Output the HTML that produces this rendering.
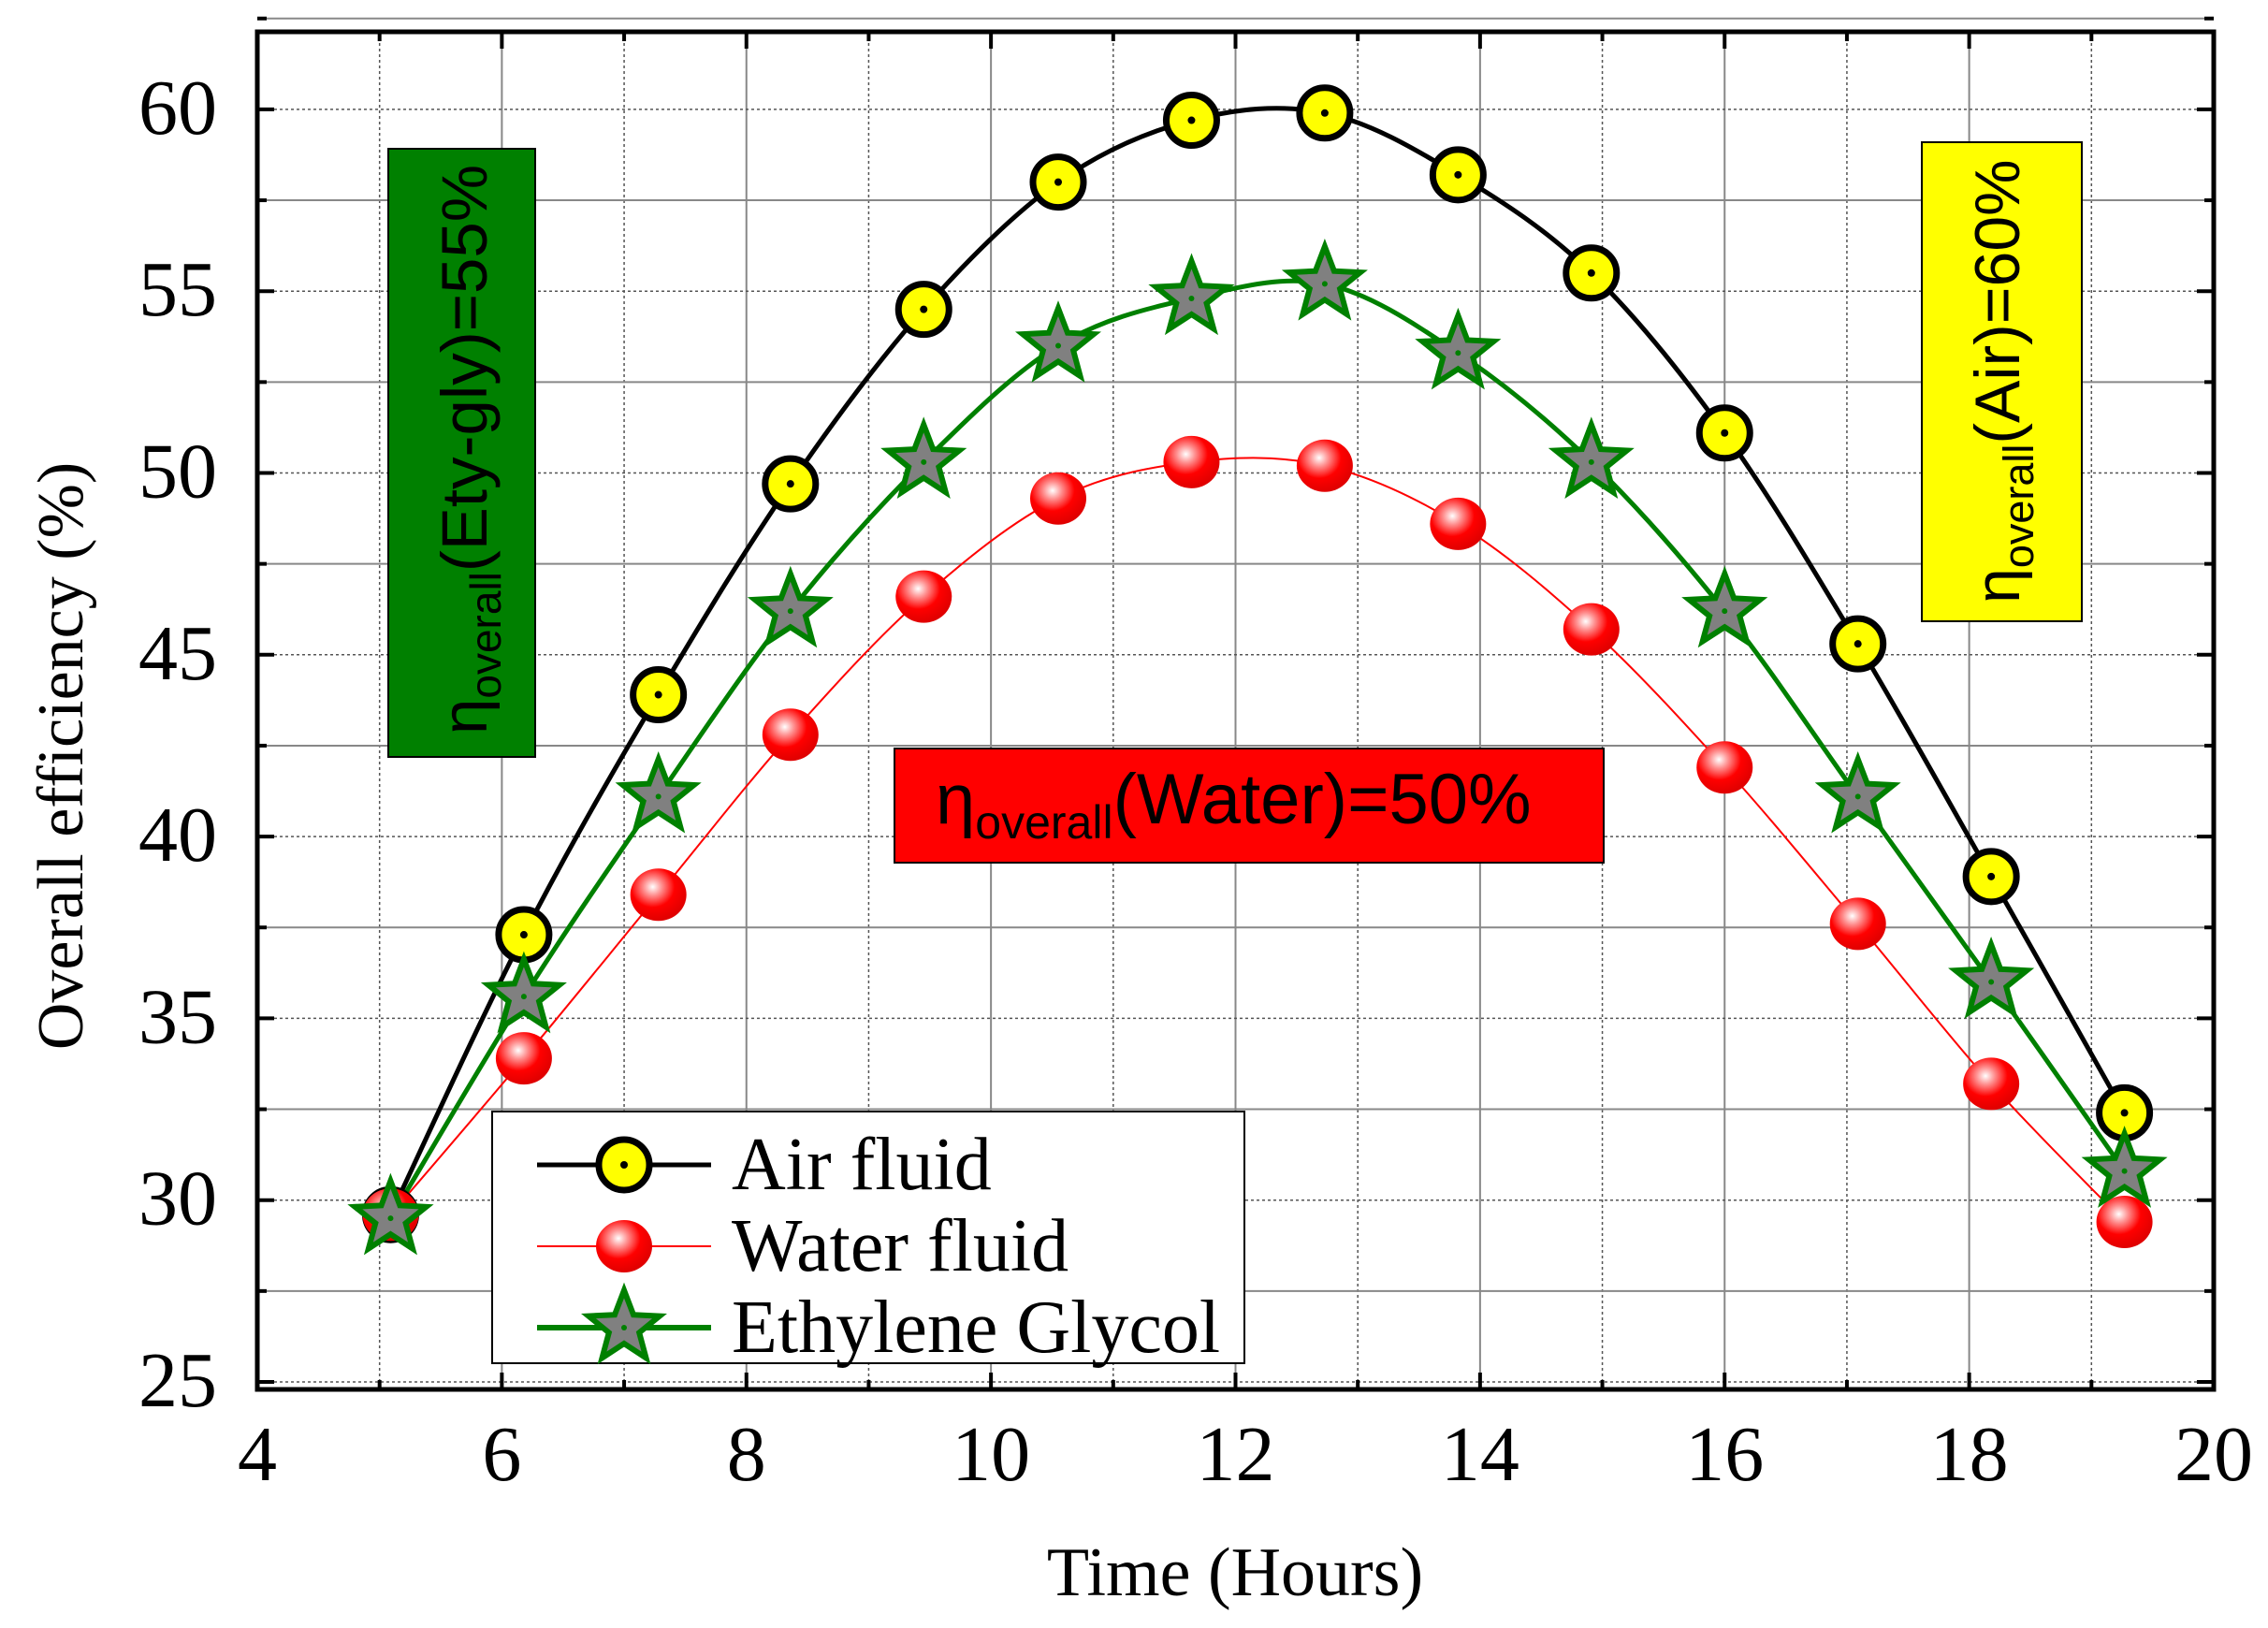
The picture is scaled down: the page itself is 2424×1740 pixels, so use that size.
<!DOCTYPE html>
<html><head><meta charset="utf-8"><style>
html,body{margin:0;padding:0;background:#fff;}
svg{display:block;}
</style></head><body>
<svg id="chart" width="2424" height="1740" viewBox="0 0 2424 1740" xmlns="http://www.w3.org/2000/svg">
<g id="grid"></g>
<g id="series"></g>
<g id="boxes">
 <rect x="415" y="159" width="157" height="650" fill="#008000" stroke="#000" stroke-width="2"/>
 <text transform="translate(520,785) rotate(-90)" font-family="Liberation Sans, sans-serif" font-size="69" fill="#000">η<tspan font-size="46" dy="15">overall</tspan><tspan dy="-15">(Ety-gly)=55%</tspan></text>
 <rect x="2054" y="152" width="171" height="512" fill="#ffff00" stroke="#000" stroke-width="2"/>
 <text transform="translate(2158,645) rotate(-90)" font-family="Liberation Sans, sans-serif" font-size="68" fill="#000">η<tspan font-size="45" dy="15">overall</tspan><tspan dy="-15">(Air)=60%</tspan></text>
 <rect x="956" y="800" width="758" height="122" fill="#ff0000" stroke="#000" stroke-width="2"/>
 <text x="1000" y="880" font-family="Liberation Sans, sans-serif" font-size="76" fill="#000">η<tspan font-size="50" dy="16">overall</tspan><tspan dy="-16">(Water)=50%</tspan></text>
</g>
<g id="legend">
 <rect x="526" y="1188" width="804" height="269" fill="#fff" stroke="#000" stroke-width="2"/>
</g>
<g id="axes"></g>
<text x="1320" y="1705" text-anchor="middle" font-family="Liberation Serif, serif" font-size="74" fill="#000">Time (Hours)</text>
<text transform="translate(88,808) rotate(-90)" text-anchor="middle" font-family="Liberation Serif, serif" font-size="70" fill="#000">Overall efficiency (%)</text>
</svg>
<script>
const hours = [5.09,6.18,7.28,8.36,9.45,10.55,11.64,12.73,13.82,14.91,16.0,17.09,18.18,19.27];
const airValues = [29.6,37.3,43.9,49.7,54.5,58.0,59.7,59.9,58.2,55.5,51.1,45.3,38.9,32.4];
const waterValues = [29.6,33.9,38.4,42.8,46.6,49.3,50.3,50.2,48.6,45.7,41.9,37.6,33.2,29.4];
const glycolValues = [29.5,35.6,41.1,46.2,50.3,53.5,54.8,55.2,53.3,50.3,46.2,41.1,36.0,30.8];
const xTicks = [4,6,8,10,12,14,16,18,20];
const yTicks = [25,30,35,40,45,50,55,60];

const NS="http://www.w3.org/2000/svg";
const L=275,R=2366,T=34,B=1485;
const X0=4,X1=20;
const Y25=1477,PXU=38.86;
function xs(v){return L+(v-X0)*(R-L)/(X1-X0);}
function ys(v){return Y25-(v-25)*PXU;}
function mk(tag,attrs,parent){const e=document.createElementNS(NS,tag);for(const k in attrs)e.setAttribute(k,attrs[k]);parent.appendChild(e);return e;}
const grid=document.getElementById('grid'),axes=document.getElementById('axes'),series=document.getElementById('series'),legend=document.getElementById('legend');
const defs=mk('defs',{},document.getElementById('chart'));
defs.innerHTML='<radialGradient id="ball" cx="0.4" cy="0.35" r="0.65"><stop offset="0" stop-color="#fff"/><stop offset="0.25" stop-color="#ff9090"/><stop offset="0.6" stop-color="#ff0000"/><stop offset="1" stop-color="#e00000"/></radialGradient>';

for(let v=4;v<=20;v+=1){
 const g=mk('line',{x1:xs(v),x2:xs(v),y1:T,y2:B,stroke:v%2?'#555':'#888','stroke-width':v%2?1.5:2,'stroke-dasharray':v%2?'3,3':''},grid);
 
 
}
for(let v=25;v<=62.5;v+=2.5){
 const g=mk('line',{x1:L,x2:R,y1:ys(v),y2:ys(v),stroke:v%5?'#888':'#555','stroke-width':v%5?2:1.5,'stroke-dasharray':v%5?'':'3,3'},grid);
 
 
}
const frame=mk('rect',{x:L,y:T,width:R-L,height:B-T,fill:'none',stroke:'#000','stroke-width':5},axes);


for(let v=4;v<=20;v+=1){
 const len=v%2?10:18;
 mk('line',{x1:xs(v),x2:xs(v),y1:B,y2:B-len,stroke:'#000','stroke-width':4},axes);
 mk('line',{x1:xs(v),x2:xs(v),y1:T,y2:T+len,stroke:'#000','stroke-width':4},axes);
}
for(let v=25;v<=62.5;v+=2.5){
 const len=v%5?10:18;
 mk('line',{x1:L,x2:L+len,y1:ys(v),y2:ys(v),stroke:'#000','stroke-width':4},axes);
 mk('line',{x1:R,x2:R-len,y1:ys(v),y2:ys(v),stroke:'#000','stroke-width':4},axes);
}
xTicks.forEach(v=>{
 const t=mk('text',{x:xs(v),y:1582,'text-anchor':'middle','font-family':'Liberation Serif, serif','font-size':84,fill:'#000'},axes);
 t.textContent=v;
 
 
});
yTicks.forEach(v=>{
 const t=mk('text',{x:232,y:ys(v)+26,'text-anchor':'end','font-family':'Liberation Serif, serif','font-size':84,fill:'#000'},axes);
 t.textContent=v;
 
 
});

function smooth(vals){
 const p=hours.map((h,i)=>[xs(h),ys(vals[i])]);
 let d='M'+p[0][0]+','+p[0][1];
 for(let i=0;i<p.length-1;i++){
  const p0=p[i-1]||p[i],p1=p[i],p2=p[i+1],p3=p[i+2]||p[i+1];
  const c1=[p1[0]+(p2[0]-p0[0])/6,p1[1]+(p2[1]-p0[1])/6];
  const c2=[p2[0]-(p3[0]-p1[0])/6,p2[1]-(p3[1]-p1[1])/6];
  d+=' C'+c1+' '+c2+' '+p2;
 }
 return d;
}
function starPts(cx,cy,ro,ri){
 let s=[];for(let k=0;k<10;k++){const r=k%2?ri:ro;const a=-Math.PI/2+k*Math.PI/5;s.push((cx+r*Math.cos(a)).toFixed(1)+','+(cy+r*Math.sin(a)).toFixed(1));}return s.join(' ');
}
function airMarker(cx,cy,parent){
 const c=mk('circle',{cx:cx,cy:cy,r:27,fill:'#ffff00',stroke:'#000','stroke-width':7},parent);
 
 
 mk('circle',{cx:cx,cy:cy,r:4,fill:'#000'},parent);
}
function waterMarker(cx,cy,parent){
 const c=mk('ellipse',{cx:cx,cy:cy,rx:30,ry:28,fill:'url(#ball)'},parent);
 
 
}
function glyMarker(cx,cy,parent){
 const s=mk('polygon',{points:starPts(cx,cy,40,17),fill:'#808080',stroke:'#008000','stroke-width':6,'stroke-linejoin':'miter'},parent);
 
 
 mk('circle',{cx:cx,cy:cy,r:3,fill:'#008000'},parent);
}
const wl=mk('path',{d:smooth(waterValues),fill:'none',stroke:'#ff0000','stroke-width':2},series);


const al=mk('path',{d:smooth(airValues),fill:'none',stroke:'#000','stroke-width':5},series);


const gl=mk('path',{d:smooth(glycolValues),fill:'none',stroke:'#008000','stroke-width':5},series);


hours.forEach((h,i)=>airMarker(xs(h),ys(airValues[i]),series));
hours.forEach((h,i)=>waterMarker(xs(h),ys(waterValues[i]),series));
hours.forEach((h,i)=>glyMarker(xs(h),ys(glycolValues[i]),series));

const entries=[['Air fluid','#000',5,airMarker],['Water fluid','#ff0000',2,waterMarker],['Ethylene Glycol','#008000',6,glyMarker]];
entries.forEach((e,i)=>{
 const y=1245+i*87;
 const ln=mk('line',{x1:574,x2:760,y1:y,y2:y,stroke:e[1],'stroke-width':e[2]},legend);
 
 
 e[3](667,y,legend);
 const t=mk('text',{x:782,y:y+26,'font-family':'Liberation Serif, serif','font-size':80,fill:'#000'},legend);
 t.textContent=e[0];
 
 
});
</script>
</body></html>
